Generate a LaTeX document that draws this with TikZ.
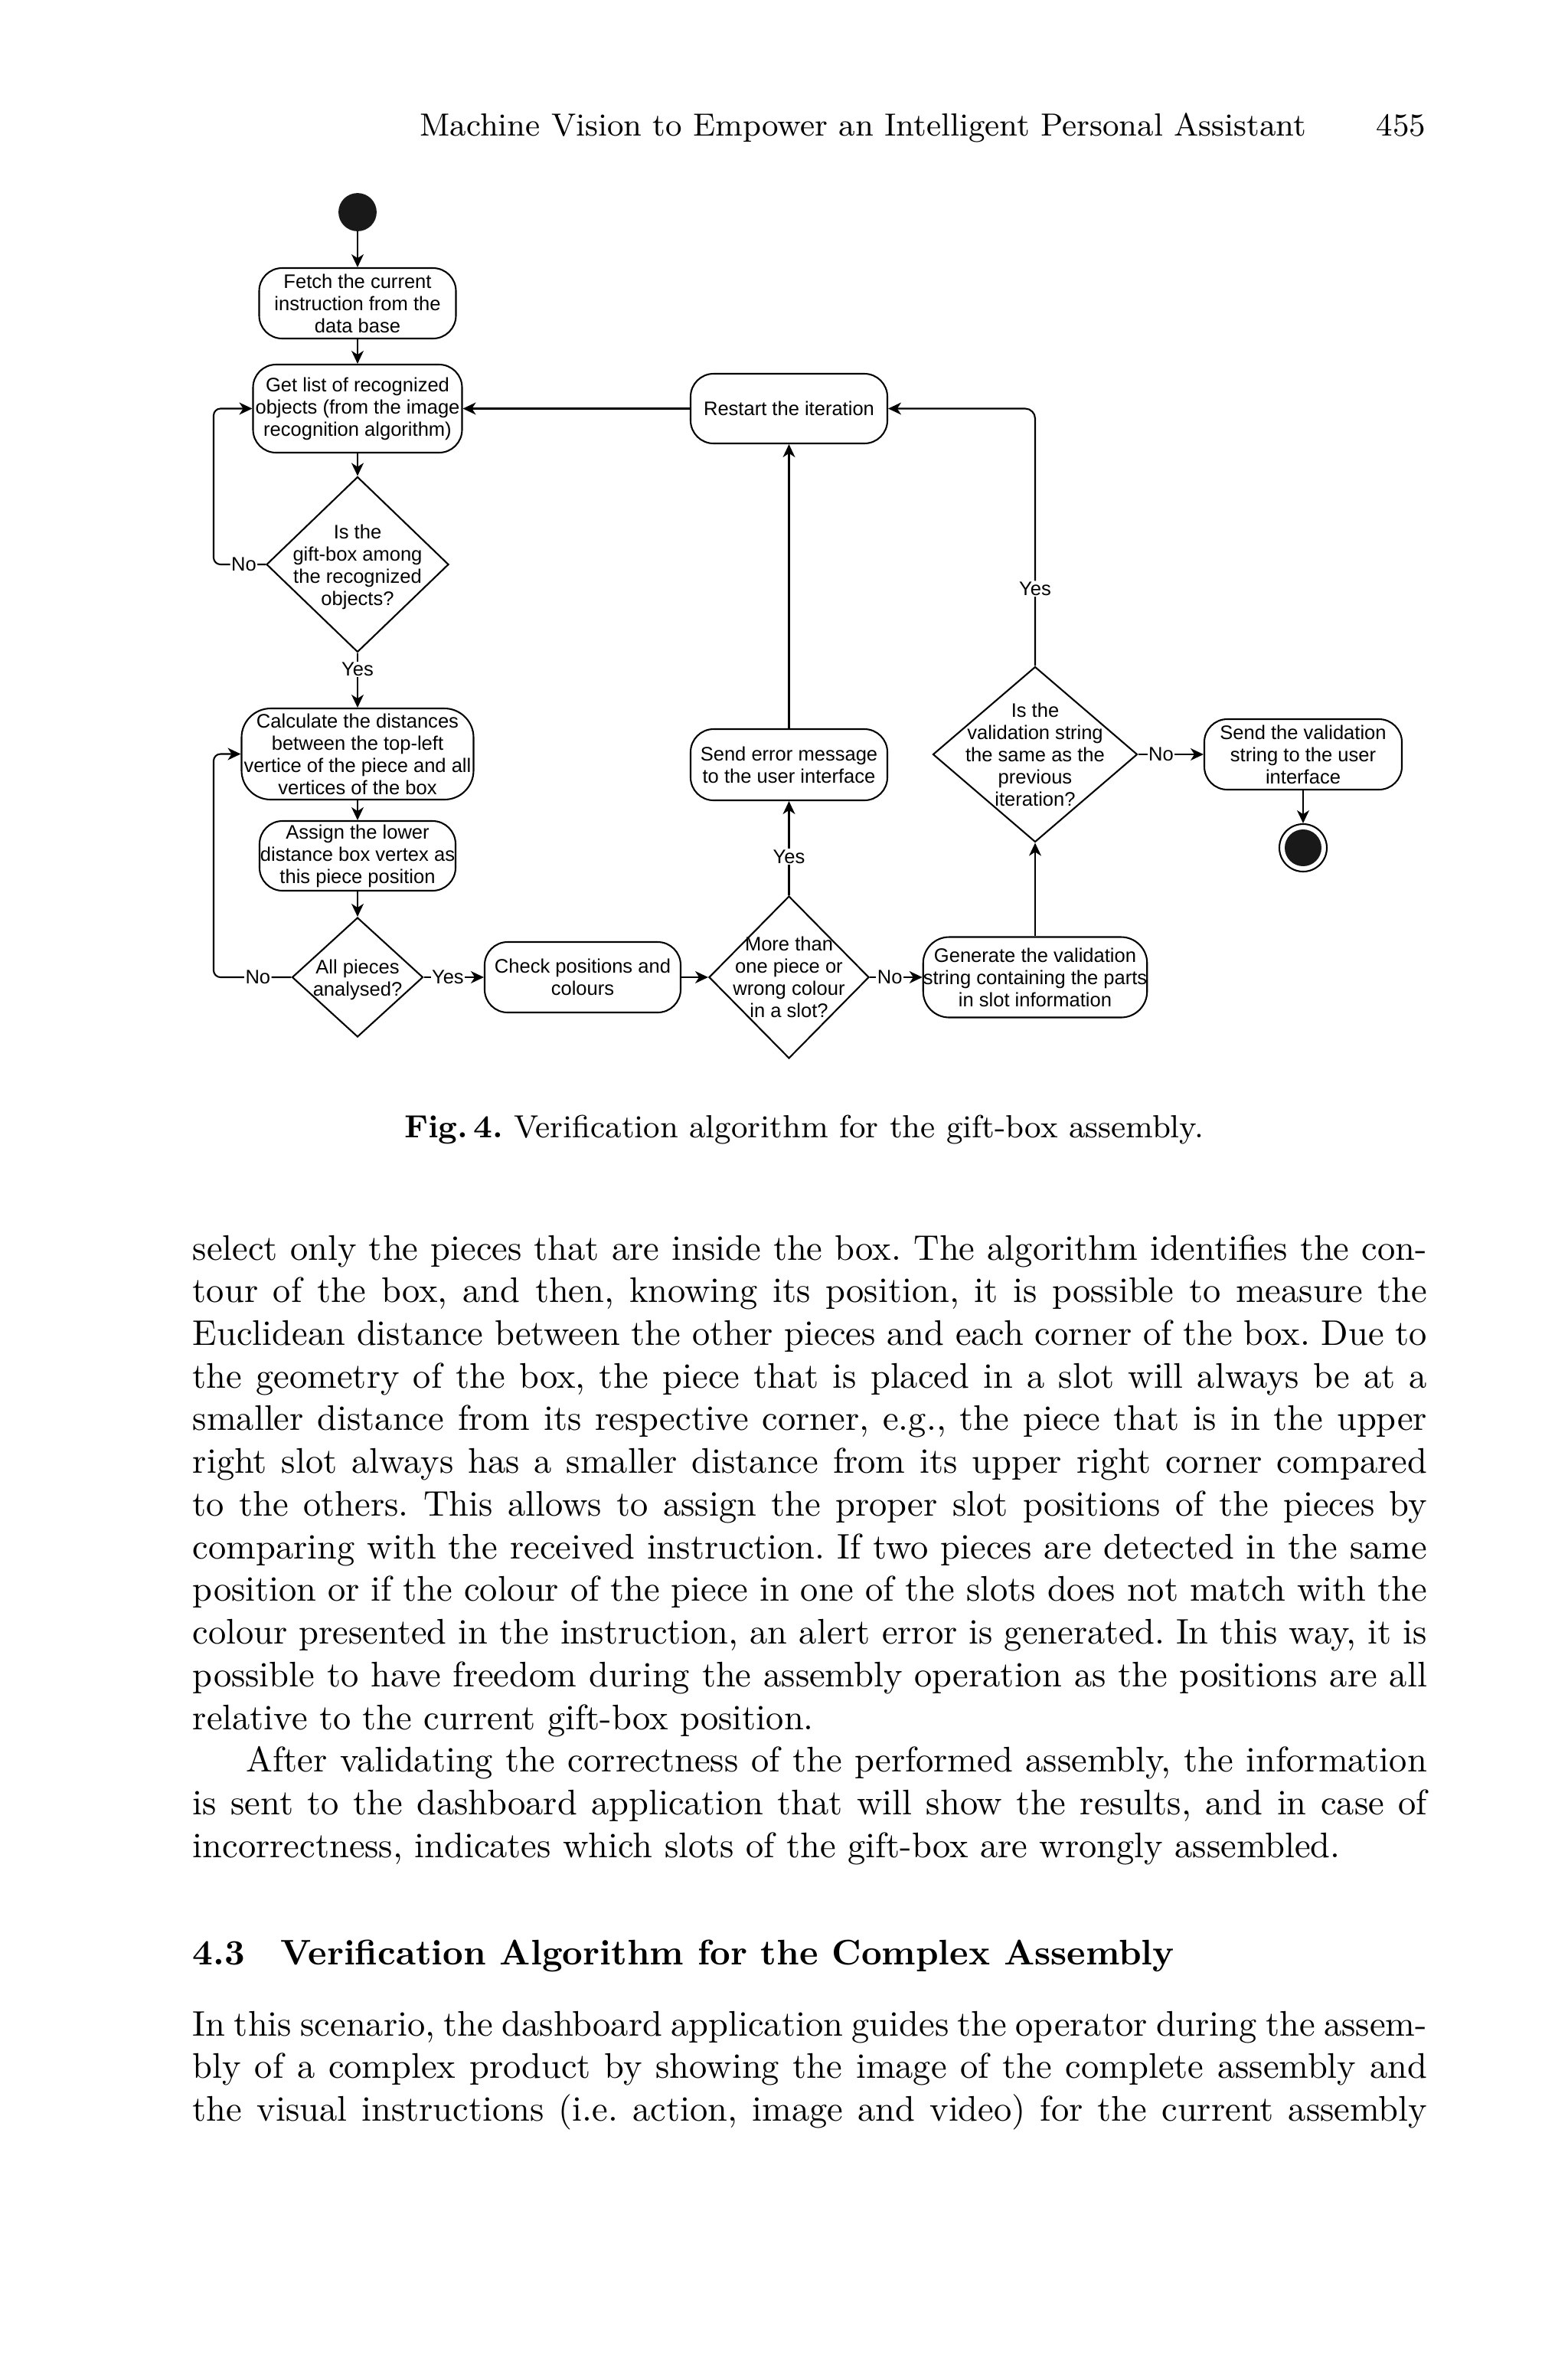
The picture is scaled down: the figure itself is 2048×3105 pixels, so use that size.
\documentclass[tikz,border=0pt]{standalone}
\usepackage{fontspec}
\newfontfamily\dsans{Liberation Sans}
\usetikzlibrary{shapes.geometric,arrows.meta}
\newlength\px
\setlength\px{0.07568mm}
\newcommand\jline[1]{\noindent\makebox[\linewidth][s]{#1}\par}
\newcommand\lline[1]{\noindent #1\par}
\frenchspacing
\tikzset{
  dfont/.style={font=\dsans\fontsize{5.5}{6.24}\selectfont},
  flow/.style={draw, line width=0.45pt, rounded corners=30\px, align=center, inner sep=0pt, dfont},
  dec/.style={draw, diamond, line width=0.45pt, inner sep=0pt},
  dectxt/.style={align=center, inner sep=0pt, dfont},
  lbl/.style={fill=white, inner sep=1.5\px, dfont},
  conn/.style={line width=0.45pt, -{Stealth[length=1.28mm, width=1.2mm, inset=0.38mm]}},
  bodytext/.style={anchor=base west, inner sep=0pt}
}
\begin{document}
\begin{tikzpicture}[x=0.07568mm, y=-0.07568mm]
\fill[white] (0,0) rectangle (2048,3105);
\useasboundingbox (0,0) rectangle (2048,3105);

% running head
\node[anchor=base east, inner sep=0pt] (head) at (1707,177) {\fontsize{9}{11}\selectfont Machine Vision to Empower an Intelligent Personal Assistant};
\node[anchor=base east, inner sep=0pt] (page) at (1863,177) {\fontsize{9}{11}\selectfont 455};

% diagram nodes
\node[circle, fill=black!90, draw=black!90, minimum size=48\px, inner sep=0pt] (start) at (467,277) {};
\node[flow, minimum width=257\px, minimum height=92\px] (box1) at (467,396) {Fetch the current\\instruction from the\\data base};
\node[flow, minimum width=273\px, minimum height=115\px] (box2) at (467,533.5) {Get list of recognized\\objects (from the image\\recognition algorithm)};
\node[dec, minimum width=238\px, minimum height=229\px, label={[dectxt, yshift=-3\px]center:Is the\\gift-box among\\the recognized\\objects?}] (d1) at (467,737) {};
\node[flow, rounded corners=38\px, minimum width=303\px, minimum height=119\px] (box3) at (467,984.5) {Calculate the distances\\between the top-left\\vertice of the piece and all\\vertices of the box};
\node[flow, minimum width=256\px, minimum height=91\px] (box4) at (467,1117.5) {Assign the lower\\distance box vertex as\\this piece position};
\node[dec, minimum width=171\px, minimum height=156\px, label={[dectxt, yshift=-3\px]center:All pieces\\analysed?}] (d2) at (467,1276) {};
\node[flow, minimum width=256\px, minimum height=92\px] (box5) at (761,1276) {Check positions and\\colours};
\node[dec, minimum width=209\px, minimum height=212\px, label={[dectxt]center:More than\\one piece or\\wrong colour\\in a slot?}] (d3) at (1030.5,1276) {};
\node[flow, rounded corners=34\px, minimum width=292\px, minimum height=105\px] (box6) at (1352,1276) {Generate the validation\\string containing the parts\\in slot information};
\node[flow, minimum width=257\px, minimum height=93\px] (box7) at (1030.5,998.5) {Send error message\\to the user interface};
\node[flow, minimum width=257\px, minimum height=91\px] (restart) at (1030.5,533.5) {Restart the iteration};
\node[dec, minimum width=267\px, minimum height=229\px, label={[dectxt]center:Is the\\validation string\\the same as the\\previous\\iteration?}] (d4) at (1352,985) {};
\node[flow, minimum width=258\px, minimum height=92\px] (box9) at (1702,985) {Send the validation\\string to the user\\interface};
\node[circle, draw, line width=0.45pt, minimum size=62\px, inner sep=0pt] (end) at (1702,1107) {};
\node[circle, fill=black!90, minimum size=48\px, inner sep=0pt] (endin) at (end.center) {};
\coordinate (loopx) at (279,0);

% connectors
\draw[conn] (start) -- (box1);
\draw[conn] (box1) -- (box2);
\draw[conn] (box2) -- (d1);
\draw[conn] (d1) -- node[lbl, pos=0.3]{Yes} (box3);
\draw[conn, rounded corners=9\px] (d1.west) -- node[lbl, pos=0.42]{No} (d1.west -| loopx) |- (box2.west);
\draw[conn] (box3) -- (box4);
\draw[conn] (box4) -- (d2);
\draw[conn, rounded corners=9\px] (d2.west) -- node[lbl, pos=0.43]{No} (d2.west -| loopx) |- (box3.west);
\draw[conn] (d2.east) -- node[lbl, pos=0.4]{Yes} (box5.west);
\draw[conn] (box5) -- (d3);
\draw[conn] (d3) -- node[lbl, pos=0.38]{No} (box6);
\draw[conn] (d3) -- node[lbl, pos=0.41]{Yes} (box7);
\draw[conn] (box7) -- (restart);
\draw[conn] (restart) -- (box2);
\draw[conn] (box6) -- (d4);
\draw[conn, rounded corners=13\px] (d4.north) |- node[lbl, pos=0.15]{Yes} (restart.east);
\draw[conn] (d4) -- node[lbl, pos=0.35]{No} (box9);
\draw[conn] (box9) -- (end);

% caption
\node[anchor=base, inner sep=0pt] (caption) at (1050,1485) {\fontsize{9}{11}\selectfont\textbf{Fig.\,4.} Verification algorithm for the gift-box assembly.};

% body text
\node[bodytext] (body1) at (251,1645) {\parbox[t]{122mm}{\fontsize{10}{12}\selectfont\parskip=0pt
\jline{select only the pieces that are inside the box. The algorithm identifies the con-}
\jline{tour of the box, and then, knowing its position, it is possible to measure the}
\jline{Euclidean distance between the other pieces and each corner of the box. Due to}
\jline{the geometry of the box, the piece that is placed in a slot will always be at a}
\jline{smaller distance from its respective corner, e.g., the piece that is in the upper}
\jline{right slot always has a smaller distance from its upper right corner compared}
\jline{to the others. This allows to assign the proper slot positions of the pieces by}
\jline{comparing with the received instruction. If two pieces are detected in the same}
\jline{position or if the colour of the piece in one of the slots does not match with the}
\jline{colour presented in the instruction, an alert error is generated. In this way, it is}
\jline{possible to have freedom during the assembly operation as the positions are all}
\lline{relative to the current gift-box position.}
\noindent\hspace*{15pt}\makebox[\dimexpr\linewidth-15pt\relax][s]{After validating the correctness of the performed assembly, the information}\par
\jline{is sent to the dashboard application that will show the results, and in case of}
\lline{incorrectness, indicates which slots of the gift-box are wrongly assembled.}
}};

\node[bodytext] (sec) at (251,2565) {\fontsize{10}{12}\selectfont\bfseries 4.3\quad Verification Algorithm for the Complex Assembly};

\node[bodytext] (body2) at (251,2658) {\parbox[t]{122mm}{\fontsize{10}{12}\selectfont\parskip=0pt
\jline{In this scenario, the dashboard application guides the operator during the assem-}
\jline{bly of a complex product by showing the image of the complete assembly and}
\jline{the visual instructions (i.e. action, image and video) for the current assembly}
}};
\end{tikzpicture}
\end{document}
